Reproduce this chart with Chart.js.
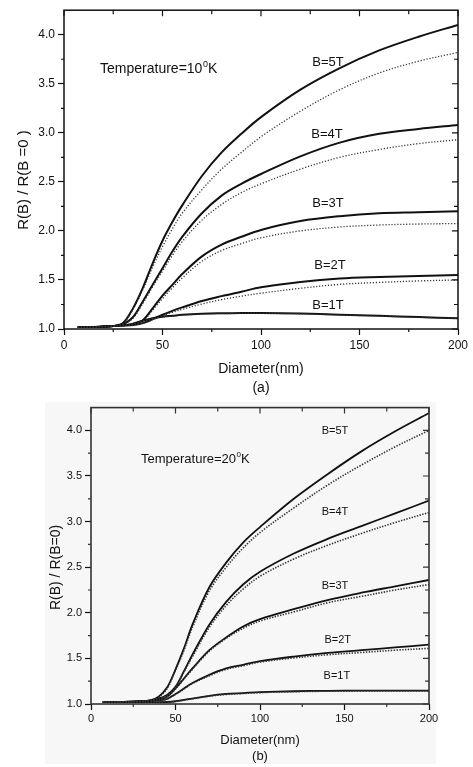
<!DOCTYPE html>
<html>
<head>
<meta charset="utf-8">
<script src="https://cdn.jsdelivr.net/npm/chart.js@4.4.1/dist/chart.umd.min.js"></script>
<style>
  html, body { margin: 0; padding: 0; background: #fff; }
  body { width: 473px; height: 767px; position: relative; overflow: hidden; }
  #shade { position: absolute; left: 45px; top: 402px; width: 391px; height: 362px; background: #f7f7f7; }
  canvas { position: absolute; left: 0; }
  #chartA { top: 0; }
  #chartB { top: 398px; }
</style>
</head>
<body>
<div id="shade"></div>
<canvas id="chartA" width="473" height="398"></canvas>
<canvas id="chartB" width="473" height="369"></canvas>
<script>
// diameter (nm) sample points shared by every curve
const diameter = [7, 15, 25, 30, 35, 40, 45, 50, 55, 60, 70, 80, 90, 100, 120, 140, 160, 180, 200];

const xTicks = [0, 50, 100, 150, 200];
const xMinor = [25, 75, 125, 175];
const yTicks = [1.0, 1.5, 2.0, 2.5, 3.0, 3.5, 4.0];
const yMinor = [1.25, 1.75, 2.25, 2.75, 3.25, 3.75];

const fields = ["B=1T", "B=2T", "B=3T", "B=4T", "B=5T"];
const temperatures = [10, 20];

// (a) T = 10 K : solid and dotted curves
const a1Solid = [1.02, 1.02, 1.03, 1.035, 1.055, 1.085, 1.11, 1.125, 1.135, 1.145, 1.155, 1.16, 1.163, 1.163, 1.158, 1.146, 1.135, 1.122, 1.11];
const a1Dot   = [1.02, 1.02, 1.03, 1.035, 1.053, 1.082, 1.107, 1.122, 1.132, 1.142, 1.152, 1.157, 1.16, 1.16, 1.155, 1.143, 1.132, 1.119, 1.107];
const a2Solid = [1.02, 1.02, 1.03, 1.035, 1.04, 1.06, 1.10, 1.145, 1.185, 1.22, 1.285, 1.335, 1.38, 1.425, 1.48, 1.515, 1.53, 1.54, 1.55];
const a2Dot   = [1.02, 1.02, 1.03, 1.035, 1.04, 1.06, 1.095, 1.135, 1.17, 1.20, 1.255, 1.30, 1.335, 1.365, 1.415, 1.455, 1.475, 1.49, 1.50];
const a3Solid = [1.02, 1.02, 1.03, 1.04, 1.05, 1.09, 1.21, 1.34, 1.45, 1.56, 1.74, 1.86, 1.94, 2.01, 2.10, 2.15, 2.18, 2.19, 2.20];
const a3Dot   = [1.02, 1.02, 1.03, 1.04, 1.05, 1.08, 1.19, 1.31, 1.42, 1.52, 1.69, 1.80, 1.87, 1.93, 2.00, 2.04, 2.06, 2.07, 2.075];
const a4Solid = [1.02, 1.02, 1.03, 1.05, 1.12, 1.28, 1.45, 1.62, 1.79, 1.94, 2.18, 2.36, 2.48, 2.58, 2.76, 2.90, 2.99, 3.04, 3.08];
const a4Dot   = [1.02, 1.02, 1.03, 1.05, 1.11, 1.26, 1.43, 1.59, 1.75, 1.89, 2.11, 2.27, 2.39, 2.48, 2.63, 2.75, 2.83, 2.89, 2.93];
const a5Solid = [1.02, 1.02, 1.03, 1.06, 1.21, 1.42, 1.67, 1.90, 2.09, 2.26, 2.56, 2.80, 2.99, 3.16, 3.44, 3.66, 3.84, 3.98, 4.10];
const a5Dot   = [1.02, 1.02, 1.03, 1.06, 1.20, 1.40, 1.63, 1.84, 2.02, 2.18, 2.42, 2.63, 2.80, 2.96, 3.22, 3.44, 3.61, 3.73, 3.82];

// (b) T = 20 K
const b1Solid = [1.02, 1.02, 1.02, 1.02, 1.02, 1.02, 1.022, 1.03, 1.045, 1.06, 1.09, 1.11, 1.12, 1.13, 1.14, 1.145, 1.147, 1.147, 1.147];
const b1Dot   = [1.02, 1.02, 1.02, 1.02, 1.02, 1.02, 1.021, 1.028, 1.042, 1.057, 1.086, 1.105, 1.115, 1.125, 1.135, 1.14, 1.142, 1.142, 1.142];
const b2Solid = [1.02, 1.02, 1.025, 1.03, 1.035, 1.04, 1.055, 1.11, 1.17, 1.23, 1.32, 1.39, 1.43, 1.47, 1.52, 1.56, 1.59, 1.62, 1.65];
const b2Dot   = [1.02, 1.02, 1.025, 1.03, 1.035, 1.04, 1.055, 1.105, 1.165, 1.225, 1.31, 1.38, 1.42, 1.46, 1.505, 1.54, 1.565, 1.59, 1.61];
const b3Solid = [1.02, 1.02, 1.025, 1.03, 1.035, 1.05, 1.08, 1.17, 1.28, 1.39, 1.59, 1.73, 1.85, 1.93, 2.04, 2.14, 2.22, 2.29, 2.36];
const b3Dot   = [1.02, 1.02, 1.025, 1.03, 1.035, 1.05, 1.08, 1.165, 1.275, 1.38, 1.58, 1.72, 1.83, 1.91, 2.01, 2.11, 2.18, 2.25, 2.31];
const b4Solid = [1.02, 1.02, 1.025, 1.03, 1.04, 1.06, 1.10, 1.19, 1.36, 1.54, 1.87, 2.12, 2.31, 2.45, 2.65, 2.81, 2.95, 3.09, 3.23];
const b4Dot   = [1.02, 1.02, 1.025, 1.03, 1.04, 1.06, 1.10, 1.185, 1.35, 1.52, 1.84, 2.08, 2.26, 2.40, 2.59, 2.74, 2.87, 2.99, 3.10];
const b5Solid = [1.02, 1.02, 1.025, 1.03, 1.04, 1.08, 1.18, 1.38, 1.61, 1.87, 2.28, 2.55, 2.77, 2.94, 3.25, 3.52, 3.77, 3.99, 4.19];
const b5Dot   = [1.02, 1.02, 1.025, 1.03, 1.04, 1.075, 1.17, 1.37, 1.59, 1.84, 2.24, 2.50, 2.71, 2.88, 3.15, 3.40, 3.62, 3.82, 4.00];

Chart.defaults.font.family = "'Liberation Sans', Arial, sans-serif";
Chart.defaults.color = "#111";

const toPoints = (vals) => vals.map((v, i) => ({ x: diameter[i], y: v }));

// frame, mirrored/minor ticks and in-plot texts
const frameTicks = {
  id: "frameTicks",
  afterDraw(chart, args, o) {
    const { ctx, chartArea: a, scales: { x, y } } = chart;
    ctx.save();
    ctx.strokeStyle = o.color;
    ctx.lineWidth = o.width;
    ctx.strokeRect(a.left, a.top, a.right - a.left, a.bottom - a.top);
    ctx.lineWidth = 1.2;
    ctx.beginPath();
    xTicks.forEach((v) => {
      const p = x.getPixelForValue(v);
      ctx.moveTo(p, a.top); ctx.lineTo(p, a.top + 6);
    });
    xMinor.forEach((v) => {
      const p = x.getPixelForValue(v);
      ctx.moveTo(p, a.top); ctx.lineTo(p, a.top + 4);
      ctx.moveTo(p, a.bottom); ctx.lineTo(p, a.bottom + 3);
    });
    yTicks.forEach((v) => {
      const p = y.getPixelForValue(v);
      ctx.moveTo(a.right, p); ctx.lineTo(a.right - 6, p);
    });
    yMinor.forEach((v) => {
      const p = y.getPixelForValue(v);
      ctx.moveTo(a.right, p); ctx.lineTo(a.right - 4, p);
      ctx.moveTo(a.left, p); ctx.lineTo(a.left - 3, p);
    });
    ctx.stroke();

    ctx.fillStyle = "#111";
    ctx.textBaseline = "middle";
    ctx.textAlign = "center";
    ctx.font = o.labelFont;
    o.labelPos.forEach(([vx, vy], i) => {
      ctx.fillText(fields[i], x.getPixelForValue(vx), y.getPixelForValue(vy));
    });

    // Temperature=NN⁰K
    const tx = x.getPixelForValue(o.tempPos[0]);
    const ty = y.getPixelForValue(o.tempPos[1]);
    ctx.textAlign = "left";
    ctx.font = o.tempFont;
    const main = "Temperature=" + o.temp;
    ctx.fillText(main, tx, ty);
    let w = ctx.measureText(main).width;
    ctx.font = o.supFont;
    ctx.fillText("0", tx + w + 0.5, ty - o.supRise);
    w += ctx.measureText("0").width + 0.5;
    ctx.font = o.tempFont;
    ctx.fillText("K", tx + w, ty);
    ctx.restore();
  },
};

function buildDatasets(pairs, solidWidth, dotWidth, dash) {
  const sets = [];
  pairs.forEach(([solid, dot]) => {
    sets.push({
      data: toPoints(dot),
      borderColor: "#333",
      borderWidth: dotWidth,
      borderDash: dash,
      pointRadius: 0,
      tension: 0.35,
    });
  });
  pairs.forEach(([solid, dot]) => {
    sets.push({
      data: toPoints(solid),
      borderColor: "#111",
      borderWidth: solidWidth,
      pointRadius: 0,
      tension: 0.35,
    });
  });
  return sets;
}

function makeChart(id, cfg) {
  new Chart(document.getElementById(id), {
    type: "line",
    data: { datasets: buildDatasets(cfg.pairs, cfg.solidWidth, cfg.dotWidth, cfg.dash) },
    options: {
      responsive: false,
      animation: false,
      layout: { padding: cfg.padding },
      plugins: {
        legend: { display: false },
        tooltip: { enabled: false },
        frameTicks: cfg.frame,
      },
      scales: {
        x: {
          type: "linear",
          min: 0,
          max: 200,
          afterBuildTicks: (s) => { s.ticks = xTicks.map((v) => ({ value: v })); },
          afterFit: (s) => { s.height = cfg.xHeight; },
          ticks: { font: { size: cfg.tickSize }, padding: cfg.xTickPad, maxRotation: 0, color: "#111" },
          grid: { drawOnChartArea: false, tickLength: 6, tickColor: "#111", tickWidth: 1.2 },
          border: { display: false },
          title: {
            display: true,
            text: ["Diameter(nm)", cfg.panel],
            font: { size: cfg.titleSize, lineHeight: cfg.titleLine },
            padding: { top: 0, bottom: cfg.xTitlePad },
            color: "#111",
          },
        },
        y: {
          type: "linear",
          min: 1.0,
          max: 4.25,
          afterBuildTicks: (s) => { s.ticks = yTicks.map((v) => ({ value: v })); },
          afterFit: (s) => { s.width = cfg.yWidth; },
          ticks: { font: { size: cfg.tickSize }, padding: 3, color: "#111", callback: (v) => v.toFixed(1) },
          grid: { drawOnChartArea: false, tickLength: 6, tickColor: "#111", tickWidth: 1.2 },
          border: { display: false },
          title: {
            display: true,
            text: cfg.yTitle,
            font: { size: cfg.yTitleSize },
            padding: { top: cfg.yTitlePad, bottom: 0 },
            color: "#111",
          },
        },
      },
    },
    plugins: [frameTicks],
  });
}

makeChart("chartA", {
  pairs: [[a1Solid, a1Dot], [a2Solid, a2Dot], [a3Solid, a3Dot], [a4Solid, a4Dot], [a5Solid, a5Dot]],
  solidWidth: 2,
  dotWidth: 1.3,
  dash: [1.2, 1.8],
  padding: { top: 8, right: 15, left: 0, bottom: 0 },
  xHeight: 69,
  yWidth: 64,
  tickSize: 12,
  xTickPad: 3,
  titleSize: 14,
  titleLine: 1.36,
  xTitlePad: 0,
  panel: "(a)",
  yTitle: "R(B) / R(B =0 )     ",
  yTitleSize: 15,
  yTitlePad: 15,
  frame: {
    color: "#111",
    width: 1.5,
    labelFont: "13px 'Liberation Sans', Arial, sans-serif",
    labelPos: [[134, 1.245], [135, 1.65], [134, 2.28], [133.5, 2.98], [134, 3.72]],
    temp: temperatures[0],
    tempPos: [18.3, 3.65],
    tempFont: "14px 'Liberation Sans', Arial, sans-serif",
    supFont: "9px 'Liberation Sans', Arial, sans-serif",
    supRise: 5,
  },
});

makeChart("chartB", {
  pairs: [[b1Solid, b1Dot], [b2Solid, b2Dot], [b3Solid, b3Dot], [b4Solid, b4Dot], [b5Solid, b5Dot]],
  solidWidth: 1.8,
  dotWidth: 1.6,
  dash: [1.4, 1.4],
  padding: { top: 8, right: 44, left: 0, bottom: 0 },
  xHeight: 63,
  yWidth: 91,
  tickSize: 11,
  xTickPad: 2,
  titleSize: 13,
  titleLine: 1.23,
  xTitlePad: 3,
  panel: "(b)",
  yTitle: "R(B) / R(B=0)      ",
  yTitleSize: 14,
  yTitlePad: 48,
  frame: {
    color: "#333",
    width: 1.6,
    labelFont: "11px 'Liberation Sans', Arial, sans-serif",
    labelPos: [[145.5, 1.305], [146, 1.705], [144.4, 2.29], [144.4, 3.105], [144.4, 3.99]],
    temp: temperatures[1],
    tempPos: [29.6, 3.68],
    tempFont: "13px 'Liberation Sans', Arial, sans-serif",
    supFont: "8px 'Liberation Sans', Arial, sans-serif",
    supRise: 5,
  },
});
</script>
</body>
</html>
